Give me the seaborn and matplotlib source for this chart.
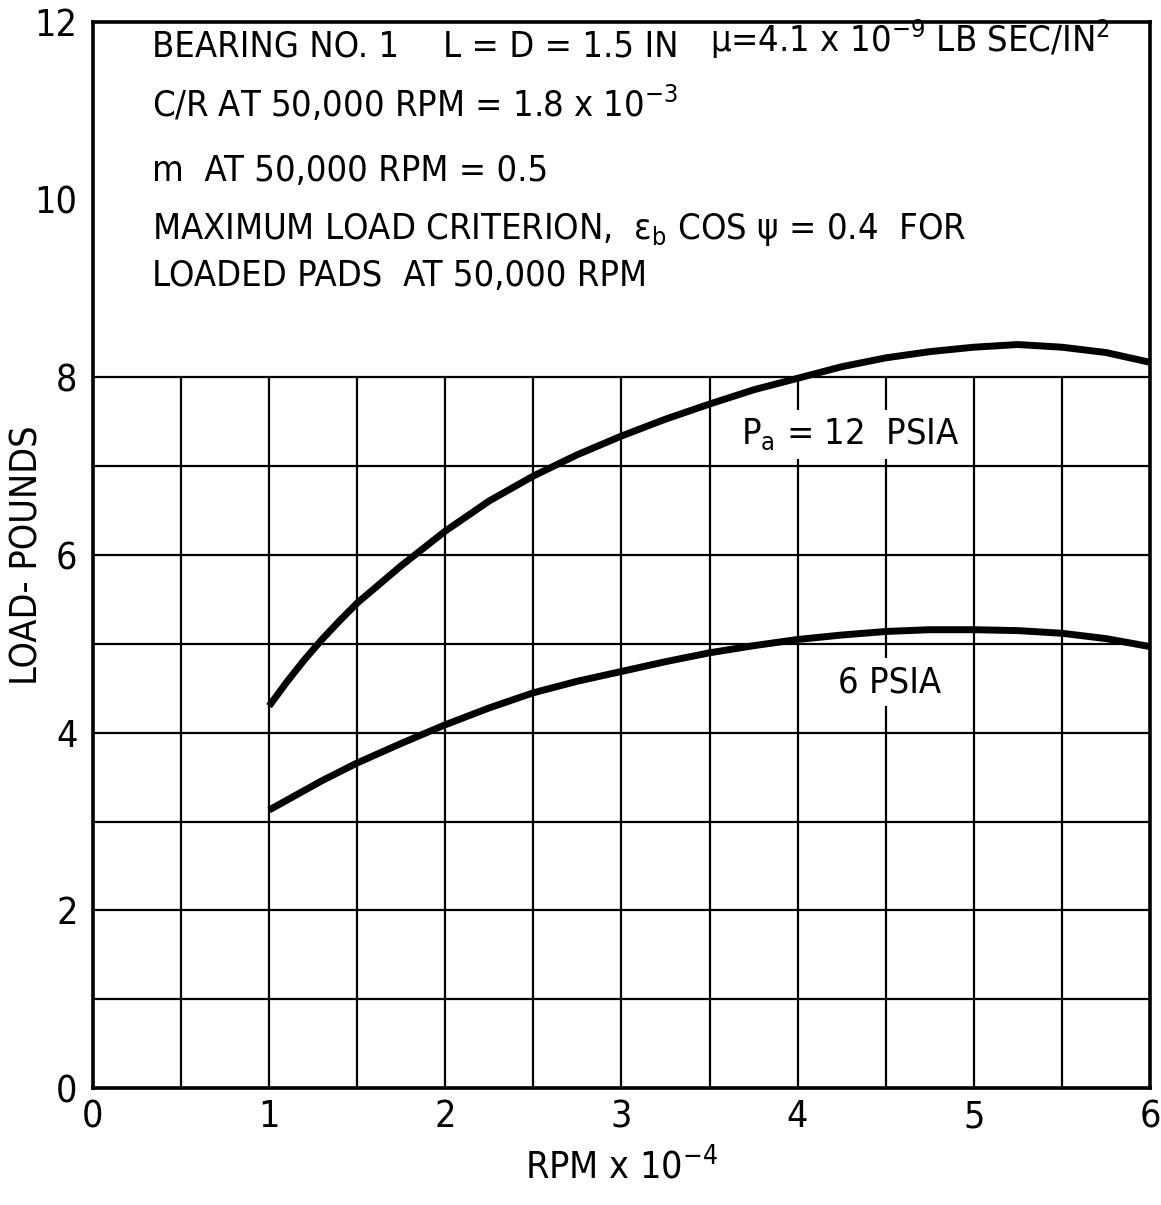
import numpy as np
import pandas as pd
import matplotlib
matplotlib.use('agg')
import matplotlib.pyplot as plt
import seaborn as sns

# values (RPM x 1e-4 vs load in pounds)
rpm = [1.0, 1.1, 1.2, 1.3, 1.4, 1.5, 1.75, 2.0, 2.25, 2.5, 2.75, 3.0, 3.25, 3.5, 3.75,
       4.0, 4.25, 4.5, 4.75, 5.0, 5.25, 5.5, 5.75, 6.0]
load_12psia = [4.30, 4.57, 4.82, 5.05, 5.26, 5.46, 5.88, 6.27, 6.61, 6.89, 7.13, 7.34, 7.53,
               7.70, 7.86, 7.99, 8.12, 8.22, 8.29, 8.34, 8.37, 8.34, 8.28, 8.17]
load_6psia = [3.13, 3.24, 3.35, 3.46, 3.56, 3.66, 3.88, 4.09, 4.28, 4.45, 4.58, 4.69, 4.80,
              4.90, 4.98, 5.05, 5.10, 5.14, 5.16, 5.16, 5.15, 5.12, 5.06, 4.97]
series_names = ['12 PSIA', '6 PSIA']

x_ticks = [0, 1, 2, 3, 4, 5, 6]
y_ticks = [0, 2, 4, 6, 8, 10, 12]

df = pd.DataFrame({
    'rpm': rpm * 2,
    'load': load_12psia + load_6psia,
    'pa': [series_names[0]] * len(rpm) + [series_names[1]] * len(rpm),
})

sns.set_style('white')
plt.rcParams['font.family'] = ['DejaVu Sans']
plt.rcParams['font.stretch'] = 'condensed'
plt.rcParams['mathtext.default'] = 'regular'
plt.rcParams['text.color'] = 'black'
plt.rcParams['axes.labelcolor'] = 'black'

fig = plt.figure(figsize=(11.61, 12.05), dpi=100)
ax = fig.add_axes([0.080, 0.097, 0.9105, 0.8847])

# grid only covers the lower part of the chart (up to 8 lb)
ax.hlines(np.arange(1, 9), 0, 6, color='black', lw=1.6, zorder=1)
ax.vlines(np.arange(0.5, 6, 0.5), 0, 8, color='black', lw=1.6, zorder=1)

sns.lineplot(data=df, x='rpm', y='load', hue='pa', palette=['black', 'black'],
             lw=5, legend=False, ax=ax, zorder=3, sort=True)
for ln in ax.lines:
    ln.set_solid_capstyle('butt')
    ln.set_solid_joinstyle('round')

ax.set_xlim(0, 6)
ax.set_ylim(0, 12)
ax.set_xticks(x_ticks)
ax.set_yticks(y_ticks)
ax.set_xticklabels([str(v) for v in x_ticks])
ax.set_yticklabels([str(v) for v in y_ticks])
ax.tick_params(axis='both', labelsize=27, length=8, width=1.6, direction='out',
               color='black', labelcolor='black')
ax.tick_params(axis='x', length=0, pad=8)
ax.tick_params(axis='y', pad=3)
for s in ax.spines.values():
    s.set_linewidth(2.6)
    s.set_color('black')

ax.set_xlabel(r'RPM x 10$^{-4}$', fontsize=27)
ax.xaxis.set_label_coords(0.5, -0.055)
ax.set_ylabel('LOAD- POUNDS', fontsize=27)
ax.yaxis.set_label_coords(-0.045, 0.5)

fs = 26
ax.text(0.335, 11.72, 'BEARING NO. 1', fontsize=fs, va='center')
ax.text(1.99, 11.72, 'L = D = 1.5 IN', fontsize=fs, va='center')
ax.text(3.50, 11.80, r'$\mu$=4.1 x 10$^{-9}$ LB SEC/IN$^{2}$', fontsize=fs, va='center')
ax.text(0.335, 11.08, r'C/R AT 50,000 RPM = 1.8 x 10$^{-3}$', fontsize=fs, va='center')
ax.text(0.335, 10.32, 'm  AT 50,000 RPM = 0.5', fontsize=fs, va='center')
ax.text(0.335, 9.67, r'MAXIMUM LOAD CRITERION,  $\epsilon_b$ COS $\psi$ = 0.4  FOR',
        fontsize=fs, va='center')
ax.text(0.335, 9.14, 'LOADED PADS  AT 50,000 RPM', fontsize=fs, va='center')

box = dict(facecolor='white', edgecolor='none', pad=5)
ax.text(4.30, 7.36, r'P$_a$ = 12  PSIA', fontsize=fs, ha='center', va='center',
        bbox=box, zorder=2)
ax.text(4.52, 4.57, '6 PSIA', fontsize=fs, ha='center', va='center',
        bbox=box, zorder=2)

fig.savefig('out.png', dpi=100)
